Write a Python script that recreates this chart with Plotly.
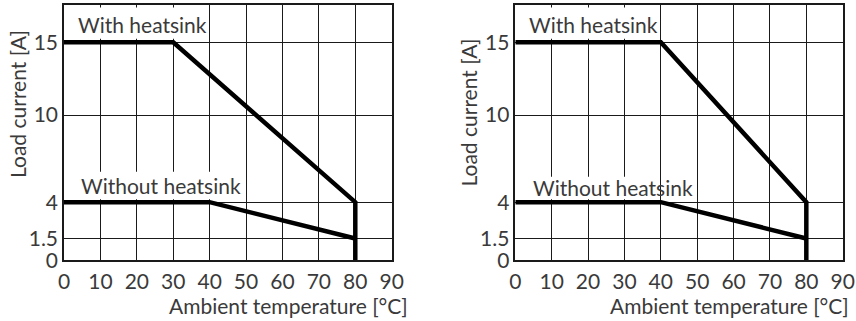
import plotly.graph_objects as go

# ---- data ----
temps_ticks = [0, 10, 20, 30, 40, 50, 60, 70, 80, 90]
current_ticks = [0, 1.5, 4, 10, 15]
current_tick_labels = ["0", "1.5", "4", "10", "15"]

left_with_x = [0, 30, 80, 80]
left_with_y = [15, 15, 4, 0]
left_without_x = [0, 40, 80]
left_without_y = [4, 4, 1.5]

right_with_x = [0, 40, 80, 80]
right_with_y = [15, 15, 4, 0]
right_without_x = [0, 40, 80]
right_without_y = [4, 4, 1.5]

label_with = "With heatsink"
label_without = "Without heatsink"
x_title = "Ambient temperature [°C]"
y_title = "Load current [A]"

FONT = "Lato"
TXT = "#3a3a3a"
GRID = "#1a1a1a"
W, H = 856, 321
FS = 21

fig = go.Figure()
line_style = dict(color="black", width=4.5)
for xs, ys, xa, ya in [
    (left_with_x, left_with_y, "x", "y"),
    (left_without_x, left_without_y, "x", "y"),
    (right_with_x, right_with_y, "x2", "y2"),
    (right_without_x, right_without_y, "x2", "y2"),
]:
    fig.add_trace(go.Scatter(x=xs, y=ys, mode="lines", line=line_style,
                             xaxis=xa, yaxis=ya, showlegend=False,
                             hoverinfo="skip"))

ydom = [1 - 260.3 / H, 1 - 5.3 / H]
xdom1 = [64 / W, 391.7 / W]
xdom2 = [515.3 / W, 842.7 / W]

common_x = dict(range=[0, 90], tickvals=temps_ticks, showgrid=True,
                gridcolor=GRID, gridwidth=1.3, zeroline=False, showline=True,
                mirror=True, linecolor=GRID, linewidth=1.5, ticks="",
                tickfont=dict(family=FONT, size=FS, color=TXT),
                fixedrange=True, automargin=False, ticklabelstandoff=2)
common_y = dict(range=[0, 17.55], tickvals=current_ticks,
                ticktext=current_tick_labels, showgrid=True,
                gridcolor=GRID, gridwidth=1.3, zeroline=False, showline=True,
                mirror=True, linecolor=GRID, linewidth=1.5, ticks="",
                tickfont=dict(family=FONT, size=FS, color=TXT),
                fixedrange=True, domain=ydom, automargin=False)

fig.update_layout(
    width=W, height=H, autosize=False,
    margin=dict(l=0, r=0, t=0, b=0),
    paper_bgcolor="white", plot_bgcolor="white",
    xaxis=dict(common_x, domain=xdom1, anchor="y"),
    yaxis=dict(common_y, anchor="x"),
    xaxis2=dict(common_x, domain=xdom2, anchor="y2"),
    yaxis2=dict(common_y, anchor="x2"),
)

shapes = []
annotations = []
for xr, yr, wy, woy, x_end in [("x", "y", 16.25, 5.18, 48),
                                ("x2", "y2", 16.2, 4.98, 39.5)]:
    shapes.append(dict(type="rect", xref=xr, yref=yr, x0=0.3, x1=39.5,
                       y0=15.25, y1=17.4, fillcolor="white",
                       line=dict(width=0), layer="between"))
    shapes.append(dict(type="rect", xref=xr, yref=yr, x0=0.3, x1=x_end,
                       y0=4.2, y1=6.1 if xr == "x" else 5.75,
                       fillcolor="white", line=dict(width=0),
                       layer="between"))
    annotations.append(dict(text=label_with, xref=xr, yref=yr, x=3.3, y=wy,
                            xanchor="left", yanchor="middle", showarrow=False,
                            font=dict(family=FONT, size=FS, color=TXT)))
    annotations.append(dict(text=label_without, xref=xr, yref=yr, x=4.2,
                            y=woy, xanchor="left", yanchor="middle",
                            showarrow=False,
                            font=dict(family=FONT, size=FS, color=TXT)))

for xc, yc in [(288.7, 305), (729, 305)]:
    annotations.append(dict(text=x_title, xref="paper", yref="paper",
                            x=xc / W, y=1 - yc / H, xanchor="center",
                            yanchor="middle", showarrow=False,
                            font=dict(family=FONT, size=FS, color=TXT)))
for xc, yc in [(17, 104), (468, 112.5)]:
    annotations.append(dict(text=y_title, xref="paper", yref="paper",
                            x=xc / W, y=1 - yc / H, xanchor="center",
                            yanchor="middle", showarrow=False, textangle=-90,
                            font=dict(family=FONT, size=FS, color=TXT)))

fig.update_layout(shapes=shapes, annotations=annotations)
fig.write_html("out.html", config={"displayModeBar": False})
